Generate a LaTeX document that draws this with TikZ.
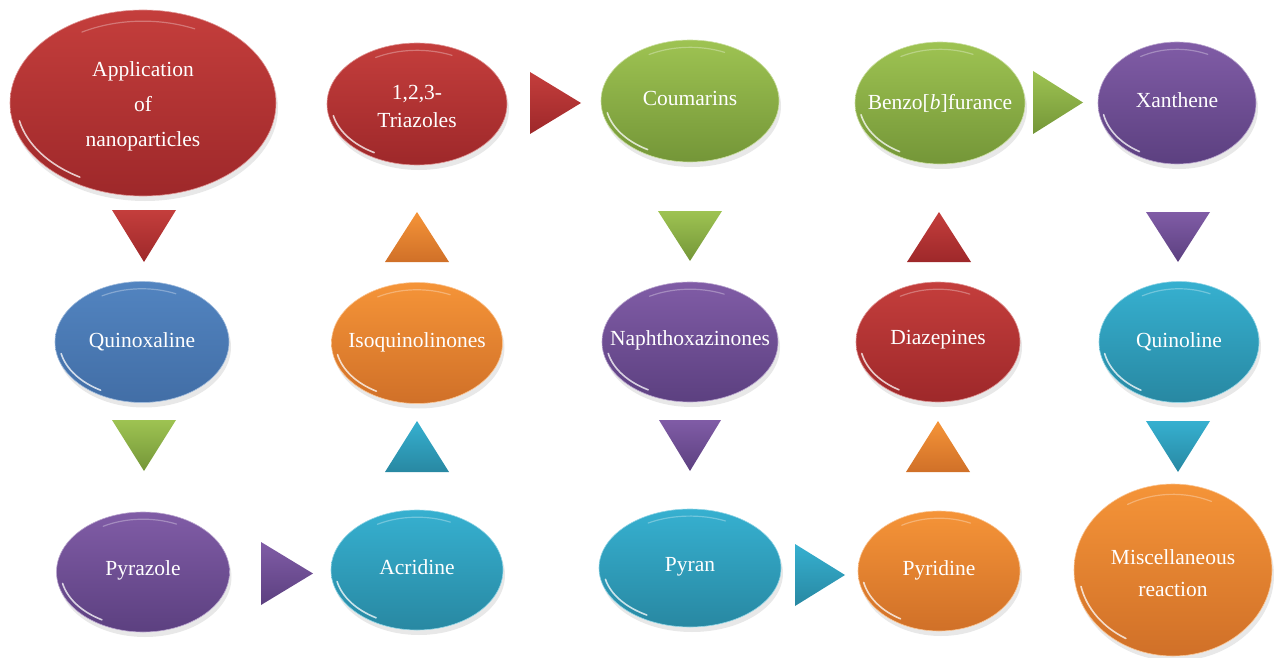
\documentclass[tikz,border=0pt]{standalone}
\usepackage{fontspec}
\setmainfont{Liberation Serif}
\usetikzlibrary{shapes.geometric}
\definecolor{redT}{RGB}{196,62,60}\definecolor{redB}{RGB}{158,40,42}
\definecolor{greenT}{RGB}{158,195,82}\definecolor{greenB}{RGB}{116,150,56}
\definecolor{purpleT}{RGB}{128,92,166}\definecolor{purpleB}{RGB}{92,64,128}
\definecolor{blueT}{RGB}{82,132,192}\definecolor{blueB}{RGB}{66,110,166}
\definecolor{orangeT}{RGB}{245,148,56}\definecolor{orangeB}{RGB}{208,112,40}
\definecolor{tealT}{RGB}{54,176,208}\definecolor{tealB}{RGB}{40,136,162}
\tikzset{
  blobnode/.style={ellipse, inner sep=0pt, outer sep=0pt},
  blobtext/.style={inner sep=0pt, text=white, align=center,
    font=\fontsize{21.5}{28}\selectfont},
  shine/.style={white, opacity=.75, line width=1.6pt, line cap=round},
  topshine/.style={white, opacity=.3, line width=1.2pt, line cap=round},
  shadowfill/.style={black!50, opacity=.18},
}
% name, cx, cy, w, h, colour, text, text y-shift
\newcommand\blob[8]{%
  \fill[shadowfill] (#2+2,-#3-5) ellipse [x radius=#4/2, y radius=#5/2];
  \node[blobnode, top color=#6T, bottom color=#6B, draw=#6T!55!white, line width=0.6pt,
        minimum width=#4, minimum height=#5] (#1) at (#2,-#3) {};
  \draw[shine] (#1.center) ++(192:{0.475*#4} and {0.46*#5})
     arc[start angle=192, end angle=240, x radius={0.475*#4}, y radius={0.46*#5}];
  \draw[topshine] (#1.center) ++(65:{0.46*#4} and {0.44*#5})
     arc[start angle=65, end angle=120, x radius={0.46*#4}, y radius={0.44*#5}];
  \node[blobtext] (#1-t) at ([yshift=#8]#1.center) {#7};
}
% cx, top, bottom, halfwidth, colour
\newcommand\tridown[5]{%
  \shade[top color=#5T, bottom color=#5B] (#1-#4,-#2) -- (#1+#4,-#2) -- (#1,-#3) -- cycle;}
\newcommand\triup[5]{%
  \shade[top color=#5T, bottom color=#5B] (#1-#4,-#3) -- (#1+#4,-#3) -- (#1,-#2) -- cycle;}
% left, right, top, bottom, colour
\newcommand\triright[5]{%
  \shade[top color=#5T, bottom color=#5B] (#1,-#3) -- (#2,{-(#3+#4)/2}) -- (#1,-#4) -- cycle;}
\begin{document}
\begin{tikzpicture}[x=1pt,y=1pt]
\useasboundingbox (0,0) rectangle (1274,-658);
% row 1
\blob{app}{143}{103}{266}{186}{red}{Application\\[7pt]of\\[7pt]nanoparticles}{-3pt}
\blob{tri}{417}{104}{180}{122}{red}{1,2,3-\\Triazoles}{-2pt}
\blob{cou}{690}{101}{178}{122}{green}{Coumarins}{3pt}
\blob{ben}{940}{103}{170}{122}{green}{Benzo[\textit{b}]furance}{0pt}
\blob{xan}{1177}{103}{158}{122}{purple}{Xanthene}{3pt}
% row 2
\blob{qux}{142}{342}{174}{121}{blue}{Quinoxaline}{0pt}
\blob{iso}{417}{343}{171}{121}{orange}{Isoquinolinones}{1pt}
\blob{nap}{690}{342}{176}{120}{purple}{Naphthoxazinones}{2pt}
\blob{dia}{938}{342}{164}{120}{red}{Diazepines}{2pt}
\blob{qul}{1179}{342}{160}{121}{teal}{Quinoline}{0pt}
% row 3
\blob{pyz}{143}{572}{173}{120}{purple}{Pyrazole}{2pt}
\blob{acr}{417}{570}{172}{120}{teal}{Acridine}{3pt}
\blob{pyn}{690}{568}{182}{118}{teal}{Pyran}{1pt}
\blob{pyd}{939}{571}{162}{120}{orange}{Pyridine}{1pt}
\blob{mis}{1173}{570}{198}{172}{orange}{Miscellaneous\\[4pt]reaction}{-3pt}
% triangles
\tridown{144}{210}{262}{32}{red}
\tridown{144}{420}{471}{32}{green}
\triright{261}{313}{542}{605}{purple}
\triup{417}{421}{472}{32}{teal}
\triup{417}{212}{262}{32}{orange}
\triright{530}{581}{72}{134}{red}
\tridown{690}{211}{261}{32}{green}
\tridown{690}{420}{471}{31}{purple}
\triright{795}{845}{544}{606}{teal}
\triup{938}{421}{472}{32}{orange}
\triup{939}{212}{262}{32}{red}
\triright{1033}{1083}{71}{134}{green}
\tridown{1178}{212}{262}{32}{purple}
\tridown{1178}{421}{472}{32}{teal}
\end{tikzpicture}
\end{document}
